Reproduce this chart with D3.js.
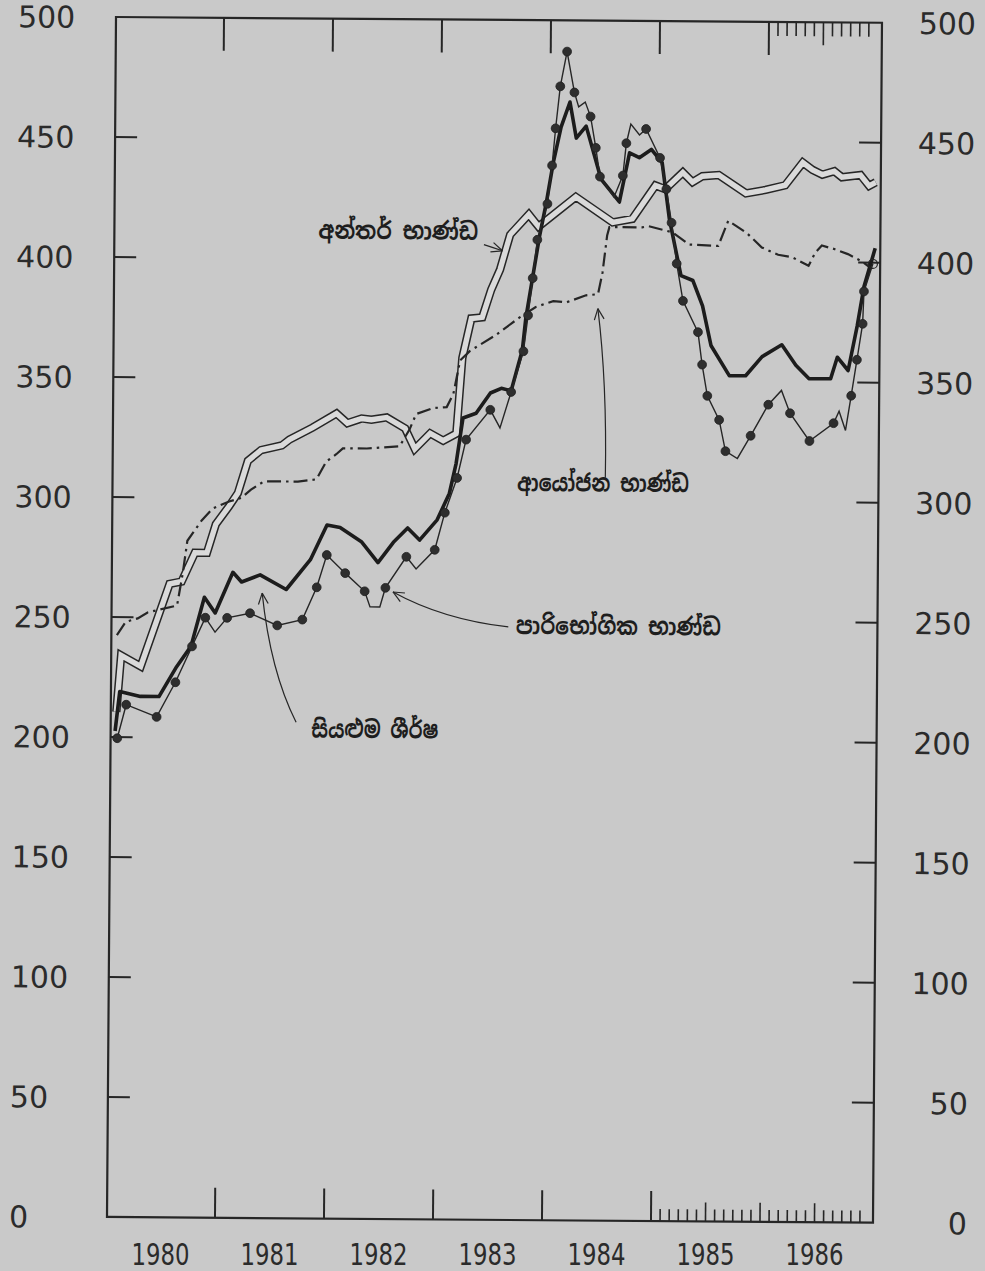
<!DOCTYPE html>
<html>
<head>
<meta charset="utf-8">
<script src="https://cdn.jsdelivr.net/npm/d3@7"></script>
<style>
  html, body { margin: 0; padding: 0; background: #c9c9c9; }
  svg { display: block; }
</style>
</head>
<body>
<svg id="chart" width="985" height="1271"></svg>
<script>
// ---- data (decimal years, index points) ----
const yearLabels = ["1980", "1981", "1982", "1983", "1984", "1985", "1986"];
const yTickValues = [0, 50, 100, 150, 200, 250, 300, 350, 400, 450, 500];

// සියළුම ශීර්ෂ (all items) - thick line
const allDates = [1980.05,1980.09,1980.28,1980.45,1980.61,1980.74,1980.86,1980.96,1981.12,1981.20,1981.37,1981.61,1981.83,1981.98,1982.10,1982.30,1982.45,1982.59,1982.72,1982.83,1982.99,1983.10,1983.16,1983.22,1983.34,1983.47,1983.57,1983.66,1983.76,1983.79,1983.85,1983.91,1983.97,1984.03,1984.10,1984.18,1984.24,1984.33,1984.47,1984.64,1984.73,1984.82,1984.93,1985.03,1985.10,1985.21,1985.32,1985.41,1985.49,1985.66,1985.81,1985.96,1986.14,1986.27,1986.39,1986.59,1986.65,1986.75,1986.83,1986.89,1986.99];
const allValues = [202.5,219,217,217,229.5,238,258.5,252,269,265,268,262,274.5,289,288,282,273.5,282,288,283,291.5,302.5,315,334,336,344.5,346.5,345.5,362.5,376,393,410,424,440.5,455.5,466,451,456,434,424.5,445,443,446.5,441,417.5,394,392,381.5,365,352.5,352.5,360.5,365.5,357,351.5,351.5,360.5,355,373.5,390,406];

// පාරිභෝගික භාණ්ඩ (consumer goods) - thin line with dots
const consumerDates = [1980.07,1980.15,1980.43,1980.60,1980.75,1980.87,1980.96,1981.07,1981.28,1981.53,1981.76,1981.89,1981.98,1982.15,1982.33,1982.38,1982.47,1982.52,1982.71,1982.80,1982.97,1983.06,1983.17,1983.25,1983.47,1983.56,1983.66,1983.77,1983.81,1983.85,1983.89,1983.98,1984.02,1984.05,1984.09,1984.15,1984.22,1984.26,1984.32,1984.37,1984.42,1984.46,1984.59,1984.67,1984.70,1984.74,1984.82,1984.88,1985.01,1985.07,1985.12,1985.17,1985.23,1985.37,1985.41,1985.46,1985.57,1985.63,1985.74,1985.86,1986.02,1986.14,1986.22,1986.40,1986.62,1986.67,1986.73,1986.78,1986.83,1986.88,1986.89,1986.97];
const consumerValues = [199.5,213.5,208.5,223,238,250,244,250,252,247,249.5,263,276.5,269,261.5,255,255,263,276,271,279,294.5,309,325,337.5,330,345,362,377,392.5,408.5,423.5,439.5,455,472.5,487,470,464,466,460,447,435,426.5,435.5,449,457,452.5,455,443,430,416,399,383.5,370.5,357,344,334,321,318,327.5,340.5,346.5,337,325.5,333,338,330,344.5,359.5,374.5,388,399.5];
// 1 = filled dot, 0 = plain vertex, 2 = open circle
const consumerMarks = [1,1,1,1,1,1,0,1,1,1,1,1,1,1,1,0,0,1,1,0,1,1,1,1,1,0,1,1,1,1,1,1,1,1,1,1,1,0,0,1,1,1,0,1,1,0,0,1,1,1,1,1,1,1,1,1,1,1,0,1,1,0,1,1,1,0,0,1,1,1,1,2];

// අන්තර් භාණ්ඩ (intermediate goods) - double line
const intermediateDates = [1980.06,1980.10,1980.28,1980.54,1980.65,1980.77,1980.88,1980.96,1981.08,1981.16,1981.25,1981.37,1981.56,1981.63,1981.84,1982.06,1982.16,1982.29,1982.38,1982.52,1982.69,1982.78,1982.92,1983.04,1983.16,1983.21,1983.29,1983.39,1983.47,1983.55,1983.64,1983.81,1983.90,1984.24,1984.58,1984.76,1984.97,1985.06,1985.22,1985.31,1985.40,1985.55,1985.80,1985.98,1986.16,1986.32,1986.41,1986.50,1986.61,1986.68,1986.85,1986.93,1986.99];
const intermediateValues = [210.5,234,229.5,264,265,277,277,289,296.5,302,315.5,320,322,324.5,329.5,335.5,331.5,333.5,333,334,329.5,321,327.5,324.5,327.5,359,375.5,376,387.5,396,410.5,419,414,426.5,416,417.5,431.5,430,437,433,435.5,436,428.5,430,432,441.5,438.5,436.5,438,435.5,436.5,432,433.5];

// ආයෝජන භාණ්ඩ (investment goods) - dash-dot line
const investmentDates = [1980.06,1980.14,1980.25,1980.34,1980.61,1980.66,1980.70,1980.83,1980.93,1981.08,1981.19,1981.28,1981.40,1981.71,1981.88,1981.97,1982.06,1982.12,1982.34,1982.64,1982.73,1982.79,1982.94,1983.07,1983.13,1983.19,1983.28,1983.51,1983.73,1983.88,1984.04,1984.16,1984.34,1984.45,1984.49,1984.53,1984.55,1984.85,1984.91,1985.13,1985.28,1985.55,1985.64,1985.81,1985.95,1986.10,1986.23,1986.38,1986.44,1986.50,1986.62,1986.74,1986.87,1986.93];
const investmentValues = [242.5,248,249.5,252,255,268.5,282,290.5,295.5,298.5,300,303.5,307,307,308,315.5,318.5,321,321,322,329,335.5,338,338.5,344,358,362,368.5,376,380.5,383,382.5,385.5,386,395,410.5,414,414,414.5,412,407,406.5,417,412,406,403,402,398.5,404,407,405.5,403.5,400.5,398.5];

const seriesNames = ["අන්තර් භාණ්ඩ", "ආයෝජන භාණ්ඩ", "පාරිභෝගික භාණ්ඩ", "සියළුම ශීර්ෂ"];

// ---- layout ----
const ink = "#262626";
const frame = { left: 116, right: 882, top: 17, bottom: 1217 };
const tilt = 0.43; // the scan is slightly rotated

const svg = d3.select("#chart");
svg.append("rect").attr("width", 985).attr("height", 1271).attr("fill", "#c9c9c9");

const x = d3.scaleLinear().domain([1980, 1987]).range([115, 878]);
const y = d3.scaleLinear().domain([0, 500]).range([frame.bottom, frame.top]);

const g = svg.append("g").attr("transform", `rotate(${tilt},${frame.left},${frame.top})`);

// frame
g.append("rect")
  .attr("x", frame.left).attr("y", frame.top)
  .attr("width", frame.right - frame.left).attr("height", frame.bottom - frame.top)
  .attr("fill", "none").attr("stroke", ink).attr("stroke-width", 2.2);

// y ticks, both sides
const inner = yTickValues.filter(v => v > 0 && v < 500);
g.selectAll(".ytl").data(inner).join("line")
  .attr("x1", frame.left).attr("x2", frame.left + 22)
  .attr("y1", d => y(d)).attr("y2", d => y(d))
  .attr("stroke", ink).attr("stroke-width", 2);
g.selectAll(".ytr").data(inner).join("line")
  .attr("x1", frame.right).attr("x2", frame.right - 22)
  .attr("y1", d => y(d)).attr("y2", d => y(d))
  .attr("stroke", ink).attr("stroke-width", 2);

const yLabelFont = { family: "DejaVu Sans, sans-serif", size: 30 };
g.selectAll(".yll").data(yTickValues).join("text")
  .attr("x", 18).attr("y", d => y(d) + 11)
  .attr("font-family", yLabelFont.family).attr("font-size", yLabelFont.size)
  .attr("fill", "#2b2b2b").text(d => d);
g.selectAll(".ylr").data(yTickValues).join("text")
  .attr("x", 976).attr("y", d => y(d) + 11).attr("text-anchor", "end")
  .attr("font-family", yLabelFont.family).attr("font-size", yLabelFont.size)
  .attr("fill", "#2b2b2b").text(d => d);

// top ticks: years 1981-1986, months through 1986
const topMajor = d3.range(1981, 1987);
g.selectAll(".ttm").data(topMajor).join("line")
  .attr("x1", d => x(d)).attr("x2", d => x(d))
  .attr("y1", frame.top).attr("y2", frame.top + 33)
  .attr("stroke", ink).attr("stroke-width", 2);
const topMinor = d3.range(1, 12).map(m => 1986 + m / 12);
g.selectAll(".ttn").data(topMinor).join("line")
  .attr("x1", d => x(d)).attr("x2", d => x(d))
  .attr("y1", frame.top).attr("y2", (d, i) => frame.top + (i === 5 ? 23 : 14))
  .attr("stroke", ink).attr("stroke-width", 1.6);

// bottom ticks: years 1981-1985, months through 1985-86
const botMajor = d3.range(1981, 1986);
g.selectAll(".btm").data(botMajor).join("line")
  .attr("x1", d => x(d)).attr("x2", d => x(d))
  .attr("y1", frame.bottom).attr("y2", frame.bottom - 30)
  .attr("stroke", ink).attr("stroke-width", 2);
const botMinor = d3.range(1, 24).map(m => 1985 + m / 12);
g.selectAll(".btn").data(botMinor).join("line")
  .attr("x1", d => x(d)).attr("x2", d => x(d))
  .attr("y1", frame.bottom).attr("y2", (d, i) => frame.bottom - ((i + 1) % 6 === 0 ? 19 : 12))
  .attr("stroke", ink).attr("stroke-width", 1.6);

// ---- series ----
const pts = (ds, vs) => ds.map((d, i) => [x(d), y(vs[i])]);
const line = d3.line();

// intermediate: double line
const interPath = line(pts(intermediateDates, intermediateValues));
g.append("path").attr("d", interPath).attr("fill", "none")
  .attr("stroke", ink).attr("stroke-width", 8.4).attr("stroke-linejoin", "miter").attr("stroke-miterlimit", 3);
g.append("path").attr("d", interPath).attr("fill", "none")
  .attr("stroke", "#dadada").attr("stroke-width", 5.4).attr("stroke-linejoin", "miter").attr("stroke-miterlimit", 3);

// investment: dash-dot
g.append("path").attr("d", line(pts(investmentDates, investmentValues))).attr("fill", "none")
  .attr("stroke", ink).attr("stroke-width", 2.2).attr("stroke-dasharray", "14 5 2.5 5");

// all items: thick
g.append("path").attr("d", line(pts(allDates, allValues))).attr("fill", "none")
  .attr("stroke", "#1c1c1c").attr("stroke-width", 3.6).attr("stroke-linejoin", "round");

// consumer: thin line with dots
const consumerPts = pts(consumerDates, consumerValues);
g.append("path").attr("d", line(consumerPts)).attr("fill", "none")
  .attr("stroke", ink).attr("stroke-width", 1.4);
g.selectAll(".dot").data(consumerPts.filter((p, i) => consumerMarks[i] === 1)).join("circle")
  .attr("cx", d => d[0]).attr("cy", d => d[1]).attr("r", 4.4)
  .attr("fill", "#2e2e2e").attr("stroke", "#1e1e1e").attr("stroke-width", 0.8);
g.selectAll(".open").data(consumerPts.filter((p, i) => consumerMarks[i] === 2)).join("circle")
  .attr("cx", d => d[0]).attr("cy", d => d[1]).attr("r", 4.5)
  .attr("fill", "none").attr("stroke", ink).attr("stroke-width", 1.2);

// ---- labels and arrows (positions in data units) ----
const labels = [
  { text: seriesNames[0], at: [1981.88, 408.3], width: 160 },
  { text: seriesNames[1], at: [1983.72, 303.8], width: 172 },
  { text: seriesNames[2], at: [1983.72, 244.2], width: 205 },
  { text: seriesNames[3], at: [1981.85, 200.4], width: 127 }
];
g.selectAll(".lab").data(labels).join("text")
  .attr("x", d => x(d.at[0])).attr("y", d => y(d.at[1]))
  .attr("textLength", d => d.width).attr("lengthAdjust", "spacingAndGlyphs")
  .attr("font-family", "'Noto Sans Sinhala', 'Noto Serif Sinhala', 'Iskoola Pota', 'Noto Sans', sans-serif")
  .attr("font-weight", "bold").attr("font-size", 24).attr("fill", "#1e1e1e")
  .text(d => d.text);

const arrows = [
  { from: [1983.40, 406.3], ctrl: [1983.49, 405.0], to: [1983.57, 403.8] },
  { from: [1984.53, 309.6], ctrl: [1984.54, 348.8], to: [1984.45, 380.0] },
  { from: [1983.65, 247.1], ctrl: [1983.05, 250.0], to: [1982.59, 261.3] },
  { from: [1981.71, 206.7], ctrl: [1981.47, 227.9], to: [1981.39, 260.4] }
];
arrows.forEach(a => {
  const p0 = [x(a.from[0]), y(a.from[1])];
  const pc = [x(a.ctrl[0]), y(a.ctrl[1])];
  const p1 = [x(a.to[0]), y(a.to[1])];
  const p = d3.path();
  p.moveTo(p0[0], p0[1]);
  p.quadraticCurveTo(pc[0], pc[1], p1[0], p1[1]);
  g.append("path").attr("d", p.toString()).attr("fill", "none")
    .attr("stroke", ink).attr("stroke-width", 1.2);
  const ang = Math.atan2(p1[1] - pc[1], p1[0] - pc[0]);
  [-0.42, 0.42].forEach(s => {
    g.append("line")
      .attr("x1", p1[0]).attr("y1", p1[1])
      .attr("x2", p1[0] - 12 * Math.cos(ang + s)).attr("y2", p1[1] - 12 * Math.sin(ang + s))
      .attr("stroke", ink).attr("stroke-width", 1.2);
  });
});

// year labels along the bottom (printed level, outside the tilted frame)
svg.selectAll(".xl").data(yearLabels).join("text")
  .attr("x", (d, i) => x(1980 + i + 0.5) - 9)
  .attr("y", 1265).attr("text-anchor", "middle")
  .attr("textLength", 58).attr("lengthAdjust", "spacingAndGlyphs")
  .attr("font-family", "'DejaVu Sans Condensed', 'DejaVu Sans', sans-serif")
  .attr("font-size", 30).attr("fill", "#2b2b2b")
  .text(d => d);
</script>
</body>
</html>
